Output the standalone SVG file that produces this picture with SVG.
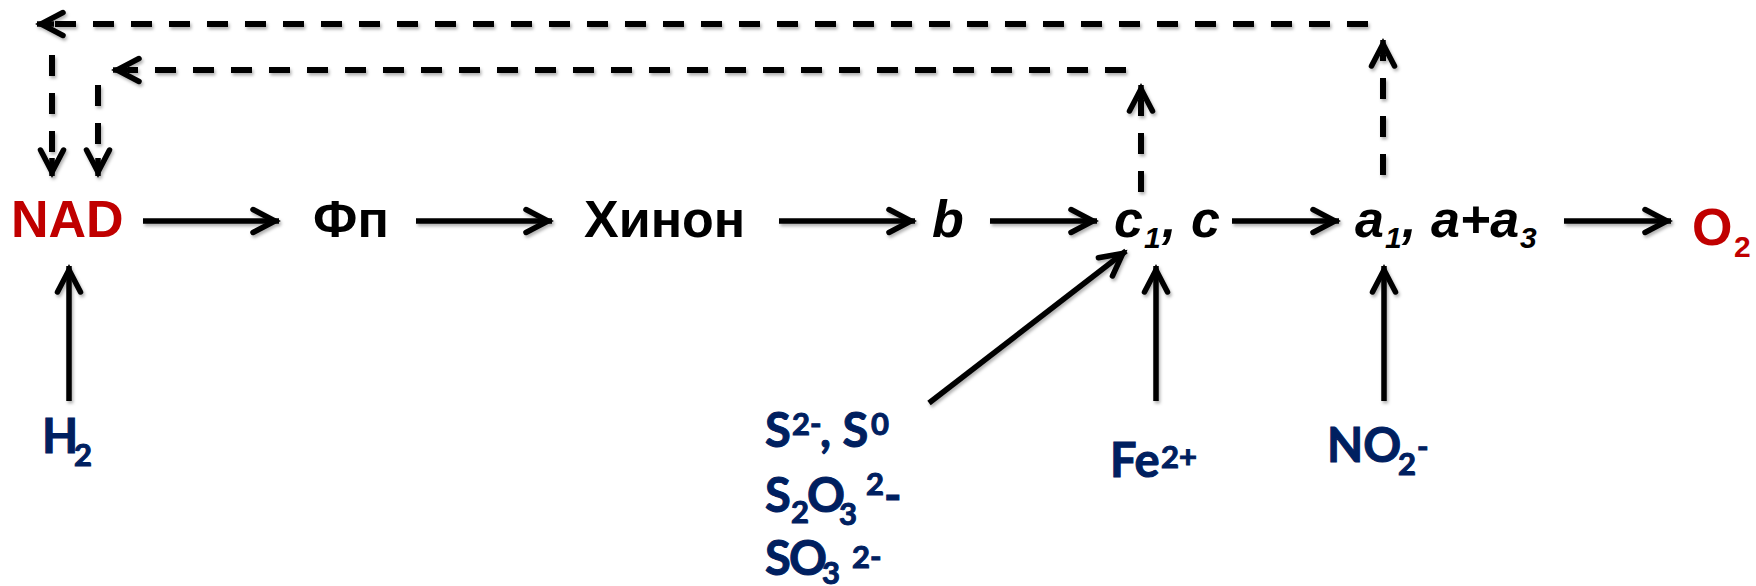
<svg xmlns="http://www.w3.org/2000/svg" width="1756" height="586" viewBox="0 0 1756 586">
<defs>
<filter id="sh" x="-5%" y="-5%" width="110%" height="110%">
<feDropShadow dx="1.5" dy="2.5" stdDeviation="1.6" flood-color="#000" flood-opacity="0.3"/>
</filter>
<marker id="ah" markerUnits="userSpaceOnUse" viewBox="-30 -16 34 32" refX="0" refY="0" markerWidth="34" markerHeight="32" orient="auto">
<path d="M-26,-11.5 L-4,0 L-26,11.5" fill="none" stroke="#000" stroke-width="5.5" stroke-linecap="round" stroke-linejoin="miter"/>
</marker>
</defs>
<style>
.ln{stroke:#000;stroke-width:5.5;fill:none;marker-end:url(#ah)}
.ds{stroke:#000;stroke-width:6;fill:none;stroke-dasharray:21 17}
.dh{stroke:#000;stroke-width:5.5;fill:none;marker-end:url(#ah)}
.m{font-family:"Liberation Sans",Arial,sans-serif;font-weight:bold;font-size:52px;fill:#000}
.it{font-style:italic}
.red{fill:#C00000}
.sub{font-size:30px}
.b{font-family:Lato,"Open Sans",sans-serif;font-weight:bold;font-size:47px;fill:#002060;stroke:#002060;stroke-width:1}
.bs{font-size:31px}
</style>
<rect width="1756" height="586" fill="#fff"/>
<g id="connectors" filter="url(#sh)">
<line class="ln" x1="143" y1="221" x2="279" y2="221"/>
<line class="ln" x1="416" y1="221" x2="552" y2="221"/>
<line class="ln" x1="779" y1="221" x2="915" y2="221"/>
<line class="ln" x1="990" y1="221" x2="1097" y2="221"/>
<line class="ln" x1="1232" y1="221" x2="1339" y2="221"/>
<line class="ln" x1="1564" y1="221" x2="1671" y2="221"/>
<line class="ln" x1="69" y1="401" x2="69" y2="266"/>
<line class="ln" x1="929" y1="403" x2="1126" y2="251"/>
<line class="ln" x1="1156" y1="401" x2="1156" y2="266"/>
<line class="ln" x1="1384" y1="401" x2="1384" y2="266"/>
<line class="ds" x1="1141" y1="192" x2="1141" y2="100"/>
<line class="dh" x1="1141" y1="102" x2="1141" y2="85"/>
<line class="ds" x1="1126" y1="70" x2="128" y2="70"/>
<line class="dh" x1="130" y1="70" x2="113" y2="70"/>
<line class="ds" x1="98" y1="85" x2="98" y2="158"/>
<line class="dh" x1="98" y1="158" x2="98" y2="176"/>
<line class="ds" x1="1383" y1="175" x2="1383" y2="55"/>
<line class="dh" x1="1383" y1="57" x2="1383" y2="40"/>
<line class="ds" x1="1368" y1="24" x2="52" y2="24"/>
<line class="dh" x1="54" y1="24" x2="37" y2="24"/>
<line class="ds" x1="52" y1="55" x2="52" y2="158"/>
<line class="dh" x1="52" y1="158" x2="52" y2="176"/>
</g>
<g id="nad"><text class="m red" x="11" y="237">NAD</text></g>
<g id="fp"><text class="m" x="313" y="237">Фп</text></g>
<g id="quinone"><text class="m" x="584" y="237">Хинон</text></g>
<g id="b"><text class="m it" x="932" y="237">b</text></g>
<g id="c"><text class="m it" y="237"><tspan x="1114">c</tspan><tspan class="sub" x="1144" y="248">1</tspan><tspan x="1162" y="237">, c</tspan></text></g>
<g id="a"><text class="m it" y="237"><tspan x="1355">a</tspan><tspan class="sub" x="1385" y="248">1</tspan><tspan x="1402" y="237">, a+a</tspan><tspan class="sub" x="1520" y="248">3</tspan></text></g>
<g id="o2"><text class="m red" y="245"><tspan x="1692">O</tspan><tspan class="sub" x="1734" y="257">2</tspan></text></g>
<g id="h2"><text class="b" y="453"><tspan x="42">H</tspan><tspan class="bs" x="74" y="466">2</tspan></text></g>
<g id="sulfur">
<text class="b" y="447"><tspan x="765">S</tspan><tspan class="bs" x="792" y="435">2-</tspan><tspan x="820" y="447">, S</tspan><tspan class="bs" x="871" y="435">0</tspan></text>
<text class="b" y="512"><tspan x="765">S</tspan><tspan class="bs" x="791" y="523">2</tspan><tspan x="807" y="512">O</tspan><tspan class="bs" x="839" y="525">3</tspan><tspan class="bs" x="866" y="495">2</tspan><tspan x="884" y="512">-</tspan></text>
<text class="b" y="575"><tspan x="765">S</tspan><tspan x="789">O</tspan><tspan class="bs" x="822" y="584">3</tspan><tspan class="bs" x="852" y="568">2-</tspan></text>
</g>
<g id="fe"><text class="b" y="477"><tspan x="1110">Fe</tspan><tspan class="bs" x="1161" y="468">2+</tspan></text></g>
<g id="no2"><text class="b" y="462"><tspan x="1327">NO</tspan><tspan class="bs" x="1398" y="475">2</tspan><tspan class="bs" x="1417" y="458">-</tspan></text></g>
</svg>
